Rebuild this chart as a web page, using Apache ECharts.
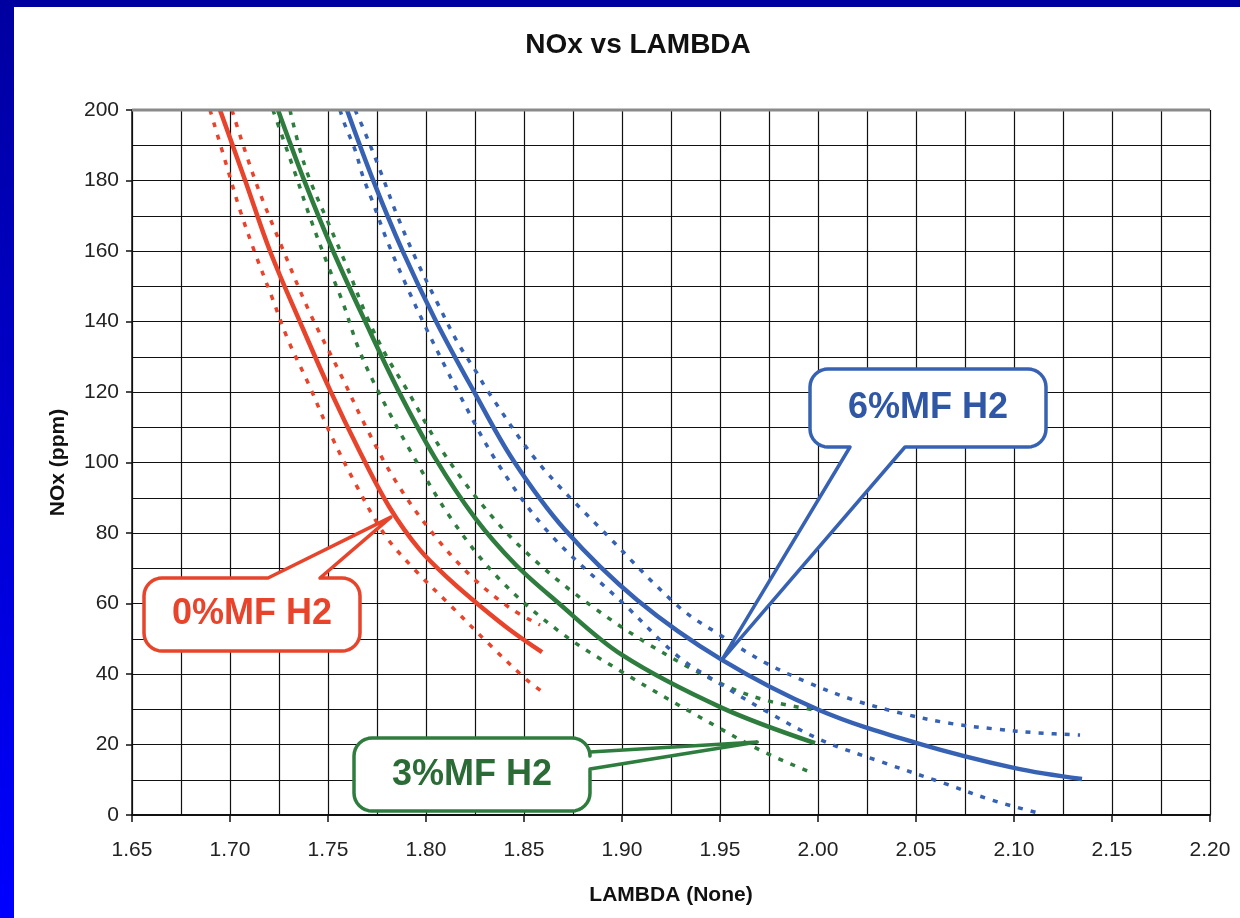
<!DOCTYPE html>
<html>
<head>
<meta charset="utf-8">
<script src="https://cdn.jsdelivr.net/npm/echarts@6/dist/echarts.min.js"></script>
<style>
html,body{margin:0;padding:0;background:#fff;}
#wrap{position:relative;width:1240px;height:918px;overflow:hidden;background:#fff;}
#chart{position:absolute;left:0;top:0;width:1240px;height:918px;}
#bt{position:absolute;left:0;top:0;width:1240px;height:7px;background:#0000a0;}
#bl{position:absolute;left:0;top:0;width:14px;height:918px;background:linear-gradient(#0000a0,#0000ff);}
</style>
</head>
<body>
<div id="wrap"><div id="chart"></div><div id="bt"></div><div id="bl"></div></div>
<script>
// ---- data: [LAMBDA, NOx ppm] ----
const red0Mid   = [[1.6949,200],[1.7077,180.1],[1.7204,160],[1.7357,139.9],[1.7510,120.6],[1.7663,103.0],[1.7816,87.1],[1.7969,75.2],[1.8122,66.7],[1.8276,59.3],[1.8429,52.5],[1.8592,46.2]];
const red0Low   = [[1.6898,200],[1.6985,183.8],[1.7051,171.6],[1.7128,159.4],[1.7214,146.9],[1.7296,134.8],[1.7398,122.6],[1.7510,108.4],[1.7638,94.2],[1.7791,79.4],[1.7944,69.5],[1.8122,59.6],[1.8327,48.2],[1.8515,38.3],[1.8587,35.2]];
const red0High  = [[1.7010,200],[1.7128,180.1],[1.7265,161.1],[1.7408,142.4],[1.7561,125.4],[1.7689,110.6],[1.7842,95.0],[1.8020,80.9],[1.8224,68.1],[1.8429,58.7],[1.8582,53.9]];
const green3Mid = [[1.7245,200],[1.7378,180.1],[1.7526,160],[1.7689,140.1],[1.7857,120.6],[1.8046,101.3],[1.8250,84.3],[1.8454,71.2],[1.8658,61.0],[1.9000,45.4],[1.9510,30.4],[1.9985,20.4]];
const green3Low = [[1.7219,200],[1.7255,194.3],[1.7332,182.1],[1.7408,169.6],[1.7495,156.6],[1.7577,145.2],[1.7653,132.8],[1.7740,122.0],[1.7918,103.5],[1.8133,83.7],[1.8378,66.7],[1.8684,51.9],[1.9000,40.6],[1.9495,24.7],[1.9724,17.9],[1.9959,12.2]];
const green3High= [[1.7306,200],[1.7357,188.7],[1.7408,180.1],[1.7495,168.8],[1.7597,155.5],[1.7699,141.3],[1.7801,129.9],[1.7903,120.6],[1.8097,102.1],[1.8352,83.7],[1.8582,70.9],[1.8837,59.6],[1.9143,48.2],[1.9500,37.4],[1.9730,32.6],[1.9985,29.8]];
const blue6Mid  = [[1.7597,200],[1.7730,180.1],[1.7878,160.3],[1.8051,140.1],[1.8240,120.6],[1.8444,100.7],[1.8709,80.9],[1.9077,61],[1.9510,44],[2.0005,29.8],[2.0505,20.4],[2.1005,13.3],[2.1347,10.2]];
const blue6Low  = [[1.7561,200],[1.7587,195.7],[1.7638,188.7],[1.7679,181.0],[1.7724,174.5],[1.7806,162.3],[1.7903,149.8],[1.8005,137.6],[1.8107,126.2],[1.8158,120.6],[1.8362,100.1],[1.8628,80],[1.9026,59.0],[1.9291,44.8],[1.9510,36.9],[1.9724,29.8],[2.0015,21.3],[2.0327,15.0],[2.0638,9.1],[2.0883,4.3],[2.1122,0.6]];
const blue6High = [[1.7638,200],[1.7679,194.9],[1.7765,183.0],[1.7852,170.2],[1.7944,158.3],[1.8056,145.5],[1.8163,133.9],[1.8260,125.4],[1.8311,120.6],[1.8571,100.1],[1.8913,80],[1.9291,59.0],[1.9485,51.6],[1.9724,43.4],[1.9944,37.7],[2.0184,32.6],[2.0423,28.9],[2.0663,26.1],[2.0903,24.4],[2.1122,23.3],[2.1337,22.7]];
const calloutTips = { blue: [1.951, 44], red: [1.7821, 84.5], green: [1.969, 20.7] };
const calloutText = { blue: '6%MF H2', red: '0%MF H2', green: '3%MF H2' };
const xMin = 1.65, xMax = 2.20, xStep = 0.05;
const yMin = 0, yMax = 200, yStep = 20;

const RED = '#e8432b', GREEN = '#2e7d3e', BLUE = '#3762b4';
const FONT = '"Liberation Sans", Arial, sans-serif';

function solid(name, data, color) {
  return { name, type: 'line', data, smooth: 0.35, showSymbol: false, symbol: 'none',
    lineStyle: { color, width: 4.5 }, z: 3 };
}
function dotted(name, data, color) {
  return { name, type: 'line', data, smooth: 0.35, showSymbol: false, symbol: 'none',
    lineStyle: { color, width: 3.5, type: [5, 8] }, z: 2 };
}

const chart = echarts.init(document.getElementById('chart'), null, { renderer: 'canvas' });
const option = {
  backgroundColor: 'transparent',
  animation: false,
  title: { text: 'NOx vs LAMBDA', left: 633, top: 26, textAlign: 'center',
    textStyle: { fontFamily: FONT, fontWeight: 'bold', fontSize: 28, color: '#111' } },
  grid: { left: 132, right: 30, top: 110, bottom: 103, show: false },
  xAxis: {
    type: 'value', min: xMin, max: xMax, interval: xStep,
    name: 'LAMBDA (None)', nameLocation: 'middle', nameGap: 70,
    nameTextStyle: { fontFamily: FONT, fontWeight: 'bold', fontSize: 21, color: '#111' },
    axisLine: { show: true, onZero: false, lineStyle: { color: '#111', width: 2 } },
    axisTick: { show: true, length: 7, lineStyle: { color: '#111', width: 1.5 } },
    axisLabel: { fontFamily: FONT, fontSize: 21, color: '#222', margin: 25, formatter: v => v.toFixed(2) },
    splitLine: { show: true, lineStyle: { color: '#111', width: 1.2 } },
    minorTick: { show: false, splitNumber: 2 },
    minorSplitLine: { show: true, lineStyle: { color: '#111', width: 1.2 } }
  },
  yAxis: {
    type: 'value', min: yMin, max: yMax, interval: yStep,
    name: 'NOx (ppm)', nameLocation: 'middle', nameGap: 63, nameRotate: 90,
    nameTextStyle: { fontFamily: FONT, fontWeight: 'bold', fontSize: 21, color: '#111' },
    axisLine: { show: true, lineStyle: { color: '#111', width: 1.5 } },
    axisTick: { show: true, length: 6, lineStyle: { color: '#111', width: 1.5 } },
    axisLabel: { fontFamily: FONT, fontSize: 21, color: '#222', margin: 13 },
    splitLine: { show: true, lineStyle: { color: '#111', width: 1.2 } },
    minorTick: { show: false, splitNumber: 2 },
    minorSplitLine: { show: true, lineStyle: { color: '#111', width: 1.2 } }
  },
  series: [
    dotted('0% low', red0Low, RED), dotted('0% high', red0High, RED), solid('0%MF H2', red0Mid, RED),
    dotted('3% low', green3Low, GREEN), dotted('3% high', green3High, GREEN), solid('3%MF H2', green3Mid, GREEN),
    dotted('6% low', blue6Low, BLUE), dotted('6% high', blue6High, BLUE), solid('6%MF H2', blue6Mid, BLUE)
  ]
};
chart.setOption(option);

function arc(cx, cy, r, a0, a1, n) {
  const pts = [];
  for (let i = 0; i <= n; i++) {
    const a = (a0 + (a1 - a0) * i / n) * Math.PI / 180;
    pts.push([cx + r * Math.cos(a), cy + r * Math.sin(a)]);
  }
  return pts;
}
function calloutPoly(x0, y0, x1, y1, r, ptr) {
  let pts = [];
  pts = pts.concat(arc(x0 + r, y0 + r, r, 180, 270, 8));
  if (ptr.edge === 'top') pts.push([ptr.a, y0], ptr.tip, [ptr.b, y0]);
  pts = pts.concat(arc(x1 - r, y0 + r, r, 270, 360, 8));
  if (ptr.edge === 'right') pts.push([x1, ptr.a], ptr.tip, [x1, ptr.b]);
  pts = pts.concat(arc(x1 - r, y1 - r, r, 0, 90, 8));
  if (ptr.edge === 'bottom') pts.push([ptr.b, y1], ptr.tip, [ptr.a, y1]);
  pts = pts.concat(arc(x0 + r, y1 - r, r, 90, 180, 8));
  return pts;
}
const tipB = chart.convertToPixel({ gridIndex: 0 }, calloutTips.blue);
const tipR = chart.convertToPixel({ gridIndex: 0 }, calloutTips.red);
const tipG = chart.convertToPixel({ gridIndex: 0 }, calloutTips.green);
const topLeft = chart.convertToPixel({ gridIndex: 0 }, [xMin, yMax]);
const topRight = chart.convertToPixel({ gridIndex: 0 }, [xMax, yMax]);

function callout(points, color, text, tx, ty, tcolor) {
  return [
    { type: 'polygon', shape: { points }, style: { fill: '#fff', stroke: color, lineWidth: 3.5, lineJoin: 'round' }, z: 100 },
    { type: 'text', x: tx, y: ty, style: { text, fontFamily: FONT, fontWeight: 'bold', fontSize: 36, fill: tcolor,
      align: 'center', verticalAlign: 'middle' }, z: 101 }
  ];
}
chart.setOption({
  graphic: [
    { type: 'line', shape: { x1: topLeft[0], y1: topLeft[1], x2: topRight[0], y2: topRight[1] },
      style: { stroke: '#8a8a8a', lineWidth: 3 }, z: 50 },
    ...callout(calloutPoly(810, 369, 1046, 447, 18, { edge: 'bottom', a: 850, b: 905, tip: tipB }), BLUE, calloutText.blue, 928, 408, '#2f57a5'),
    ...callout(calloutPoly(144, 578, 360, 651, 18, { edge: 'top', a: 268, b: 320, tip: tipR }), RED, calloutText.red, 252, 614, RED),
    ...callout(calloutPoly(354, 738, 590, 811, 18, { edge: 'right', a: 752, b: 769, tip: tipG }), GREEN, calloutText.green, 472, 775, '#2a6b36')
  ]
});
</script>
</body>
</html>
